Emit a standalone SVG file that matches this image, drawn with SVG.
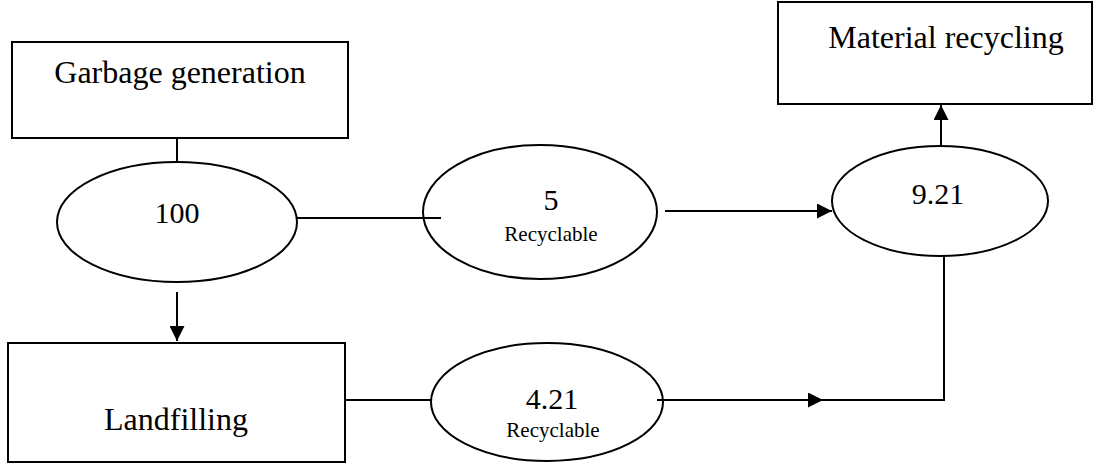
<svg xmlns="http://www.w3.org/2000/svg" width="1104" height="463" viewBox="0 0 1104 463">
<style>
.box{fill:#fff;stroke:#000;stroke-width:2}
.ell{fill:#fff;stroke:#000;stroke-width:2}
.ln{fill:none;stroke:#000;stroke-width:2}
.lbl{font-family:"Liberation Serif","Times New Roman",serif;font-size:32px;fill:#000;text-anchor:middle}
.num{font-family:"Liberation Serif","Times New Roman",serif;font-size:30px;fill:#000;text-anchor:middle}
.sub{font-family:"Liberation Serif","Times New Roman",serif;font-size:21px;fill:#000;text-anchor:middle}
</style>
<defs>
<marker id="ah" viewBox="0 0 10 10" refX="10" refY="5" markerWidth="15" markerHeight="15" markerUnits="userSpaceOnUse" orient="auto">
<path d="M0,0 L10,5 L0,10 Z" fill="#000"/>
</marker>
</defs>
<g id="garbage-generation">
<rect class="box" x="12" y="42" width="336" height="96"/>
<text class="lbl" x="180" y="83">Garbage generation</text>
</g>
<g id="material-recycling">
<rect class="box" x="778" y="2" width="314" height="102"/>
<text class="lbl" x="946" y="48">Material recycling</text>
</g>
<g id="landfilling">
<rect class="box" x="8" y="343" width="337" height="119"/>
<text class="lbl" x="176" y="430">Landfilling</text>
</g>
<g id="n100">
<ellipse class="ell" cx="177" cy="222" rx="120" ry="60"/>
<text class="num" x="177" y="223">100</text>
</g>
<g id="n5">
<ellipse class="ell" cx="540" cy="212" rx="117" ry="67"/>
<text class="num" x="551" y="210">5</text>
<text class="sub" x="551" y="241">Recyclable</text>
</g>
<g id="n921">
<ellipse class="ell" cx="940" cy="201" rx="108" ry="55"/>
<text class="num" x="938" y="204">9.21</text>
</g>
<g id="n421">
<ellipse class="ell" cx="547" cy="402" rx="116" ry="59"/>
<text class="num" x="552" y="409">4.21</text>
<text class="sub" x="553" y="437">Recyclable</text>
</g>
<g id="connectors">
<line class="ln" x1="177" y1="138" x2="177" y2="162"/>
<line class="ln" x1="297" y1="218" x2="441" y2="218"/>
<line class="ln" x1="665" y1="211" x2="832" y2="211" marker-end="url(#ah)"/>
<line class="ln" x1="941" y1="146" x2="941" y2="105" marker-end="url(#ah)"/>
<line class="ln" x1="177" y1="292" x2="177" y2="341" marker-end="url(#ah)"/>
<line class="ln" x1="345" y1="400" x2="431" y2="400"/>
<line class="ln" x1="657" y1="400" x2="823" y2="400" stroke-width="2.5" marker-end="url(#ah)"/>
<polyline class="ln" points="823,400 944,400 944,256"/>
</g>
</svg>
